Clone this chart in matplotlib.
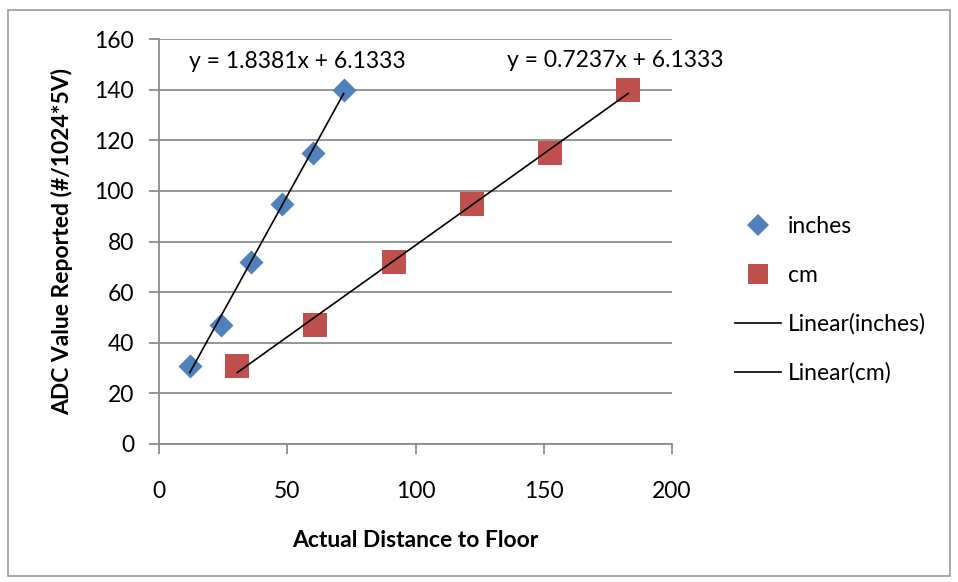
import numpy as np
import matplotlib
matplotlib.use("Agg")
import matplotlib.pyplot as plt
from matplotlib.lines import Line2D
from matplotlib.patches import Rectangle

# Data
inches_x = [12, 24, 36, 48, 60, 72]
cm_x = [30.48, 60.96, 91.44, 121.92, 152.4, 182.88]
adc_y = [31, 47, 72, 95, 115, 140]
eq_inches = "y = 1.8381x + 6.1333"
eq_cm = "y = 0.7237x + 6.1333"
x_ticks = [0, 50, 100, 150, 200]
y_ticks = [0, 20, 40, 60, 80, 100, 120, 140, 160]
legend_labels = ["inches", "cm", "Linear(inches)", "Linear(cm)"]

plt.rcParams['font.family'] = ['Lato', 'DejaVu Sans']
FS = 16.5

W, H = 958, 582
fig = plt.figure(figsize=(W / 100, H / 100), dpi=100)
fig.patch.set_facecolor('white')

# outer chart border
fig.patches.append(Rectangle((8 / W, 1 - 576 / H), (950 - 8) / W, (576 - 10) / H,
                             transform=fig.transFigure, fill=False,
                             edgecolor='#9a9a9a', linewidth=1.2))

ax = fig.add_axes([159 / W, 1 - 444 / H, (672 - 159) / W, (444 - 39) / H])
ax.set_xlim(0, 200)
ax.set_ylim(0, 160)
ax.set_xticks(x_ticks)
ax.set_yticks(y_ticks)
ax.grid(axis='y', color='#8c8c8c', linewidth=1.3)
ax.set_axisbelow(True)
for s in ['top', 'right']:
    ax.spines[s].set_visible(False)
for s in ['left', 'bottom']:
    ax.spines[s].set_color('#8c8c8c')
    ax.spines[s].set_linewidth(1.3)
ax.tick_params(axis='both', direction='out', color='#8c8c8c', width=1.3, length=7,
               labelsize=FS, labelcolor='black')
ax.tick_params(axis='x', pad=20)
ax.tick_params(axis='y', pad=11)

# trendlines
for xs in (inches_x, cm_x):
    m, b = np.polyfit(xs, adc_y, 1)
    xx = np.array([min(xs), max(xs)])
    ax.plot(xx, m * xx + b, color='black', linewidth=1.2, zorder=3)

ax.scatter(inches_x, adc_y, marker='D', s=150, color='#4F81BD', zorder=2, linewidths=0)
ax.scatter(cm_x, adc_y, marker='s', s=300, color='#C0504D', zorder=2, linewidths=0)

ax.text(53.8, 151.3, eq_inches, fontsize=FS, ha='center', va='center')
ax.text(177.8, 151.7, eq_cm, fontsize=FS, ha='center', va='center')

ax.set_xlabel("Actual Distance to Floor", fontsize=FS, fontweight='bold', labelpad=20)
ax.set_ylabel("ADC Value Reported (#/1024*5V)", fontsize=FS, fontweight='bold', labelpad=15)

handles = [
    Line2D([], [], marker='D', linestyle='none', color='#4F81BD', markersize=11, markeredgewidth=0),
    Line2D([], [], marker='s', linestyle='none', color='#C0504D', markersize=14, markeredgewidth=0),
    Line2D([], [], color='black', linewidth=1.2),
    Line2D([], [], color='black', linewidth=1.2),
]
leg = fig.legend(handles, legend_labels, loc='center left', bbox_to_anchor=(735 / W, 1 - 300 / H),
                 frameon=False, fontsize=FS, labelspacing=1.2, handlelength=2.0,
                 handletextpad=0.3, borderaxespad=0, borderpad=0)

fig.savefig("out.png", dpi=100, facecolor='white')
